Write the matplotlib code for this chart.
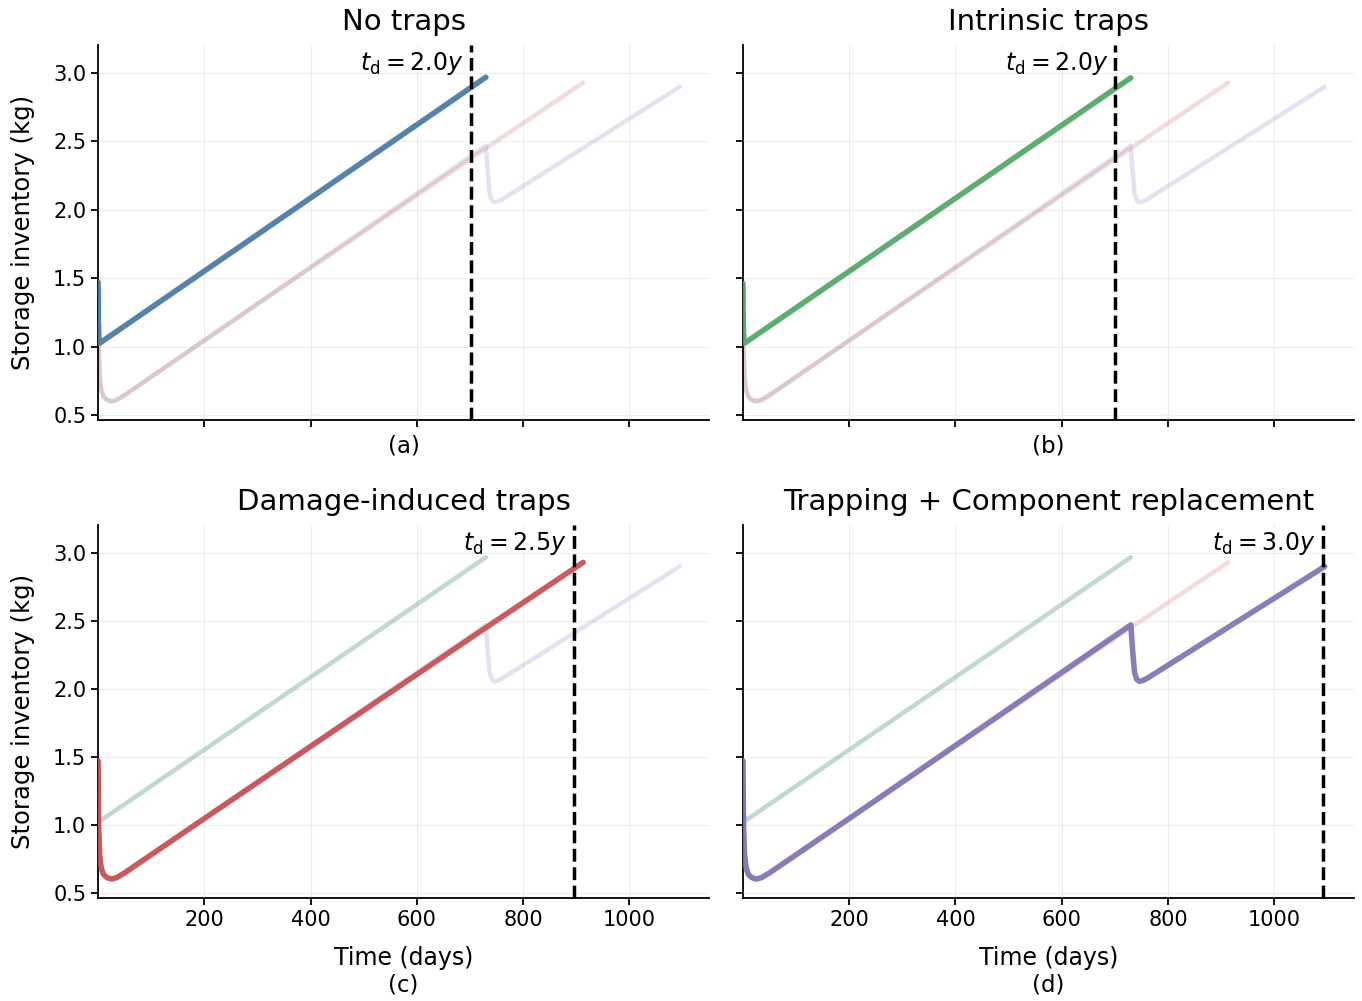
import numpy as np
import matplotlib
matplotlib.use("Agg")
import matplotlib.pyplot as plt

# Inventory curves (days, kg)
t_notrap = [0, 0.5, 1.5, 3, 730]
inv_notrap = [1.47, 1.20, 1.06, 1.025, 2.97]

t_intrinsic = [0, 0.5, 1.5, 3, 730]
inv_intrinsic = [1.46, 1.19, 1.06, 1.025, 2.965]

t_damage = [0, 1, 3, 6, 10, 15, 20, 26, 35, 50, 80, 200, 730, 913]
inv_damage = [1.47, 1.00, 0.78, 0.68, 0.635, 0.615, 0.605, 0.60, 0.61, 0.645, 0.725, 1.045, 2.45, 2.93]

t_replace = [0, 1, 3, 6, 10, 15, 20, 26, 35, 50, 80, 200, 730,
             733, 737, 741, 746, 752, 760, 1095]
inv_replace = [1.47, 1.00, 0.78, 0.68, 0.635, 0.615, 0.605, 0.60, 0.61, 0.645, 0.725, 1.045, 2.47,
               2.30, 2.12, 2.07, 2.055, 2.06, 2.075, 2.90]

titles = ["No traps", "Intrinsic traps", "Damage-induced traps",
          "Trapping + Component replacement"]
panel_tags = ["(a)", "(b)", "(c)", "(d)"]
t_design = [701, 701, 895, 1091]
td_labels = ["2.0", "2.0", "2.5", "3.0"]

colors = ["#4A79A5", "#55A868", "#C44E52", "#8172B3"]
curves = [(t_notrap, inv_notrap), (t_intrinsic, inv_intrinsic),
          (t_damage, inv_damage), (t_replace, inv_replace)]

fig = plt.figure(figsize=(13.62, 10.01), dpi=100)
pos = [(0.072, 0.580, 0.4486, 0.375), (0.5455, 0.580, 0.4486, 0.375),
       (0.072, 0.1029, 0.4486, 0.3726), (0.5455, 0.1029, 0.4486, 0.3726)]

for i in range(4):
    ax = fig.add_axes(pos[i])
    # other scenarios shown faded in the background
    for j in range(4):
        if j == i:
            continue
        ax.plot(curves[j][0], curves[j][1], color=colors[j], alpha=0.2, lw=3.2,
                solid_capstyle="round", zorder=2)
    ax.plot(curves[i][0], curves[i][1], color=colors[i], alpha=0.92, lw=4,
            solid_capstyle="round", zorder=3)
    ax.axvline(t_design[i], color="black", ls="--", lw=2.5, zorder=4)
    ax.text(t_design[i] - 13, 3.07, r"$t_\mathrm{d} = %s y$" % td_labels[i],
            ha="right", va="center", fontsize=17)

    ax.set_xlim(0, 1150)
    ax.set_ylim(0.46, 3.205)
    ax.set_xticks([200, 400, 600, 800, 1000])
    ax.set_yticks([0.5, 1.0, 1.5, 2.0, 2.5, 3.0])
    ax.grid(True, color="#e8e8e8", lw=0.8, alpha=0.7)
    ax.set_axisbelow(True)
    for s in ["top", "right"]:
        ax.spines[s].set_visible(False)
    for s in ["left", "bottom"]:
        ax.spines[s].set_linewidth(1.3)
    ax.tick_params(labelsize=15, width=1.3, length=5)
    ax.set_title(titles[i], fontsize=21, pad=11)

    if i % 2 == 0:
        ax.set_ylabel("Storage inventory (kg)", fontsize=17.5, labelpad=13)
    else:
        ax.tick_params(labelleft=False)

    if i < 2:
        ax.tick_params(labelbottom=False)
        ax.text(0.5, -0.067, panel_tags[i], transform=ax.transAxes,
                ha="center", va="center", fontsize=16.5)
    else:
        ax.set_xlabel("Time (days)", fontsize=17, labelpad=12)
        ax.text(0.5, -0.232, panel_tags[i], transform=ax.transAxes,
                ha="center", va="center", fontsize=16.5)

fig.savefig("out.png", dpi=100)
